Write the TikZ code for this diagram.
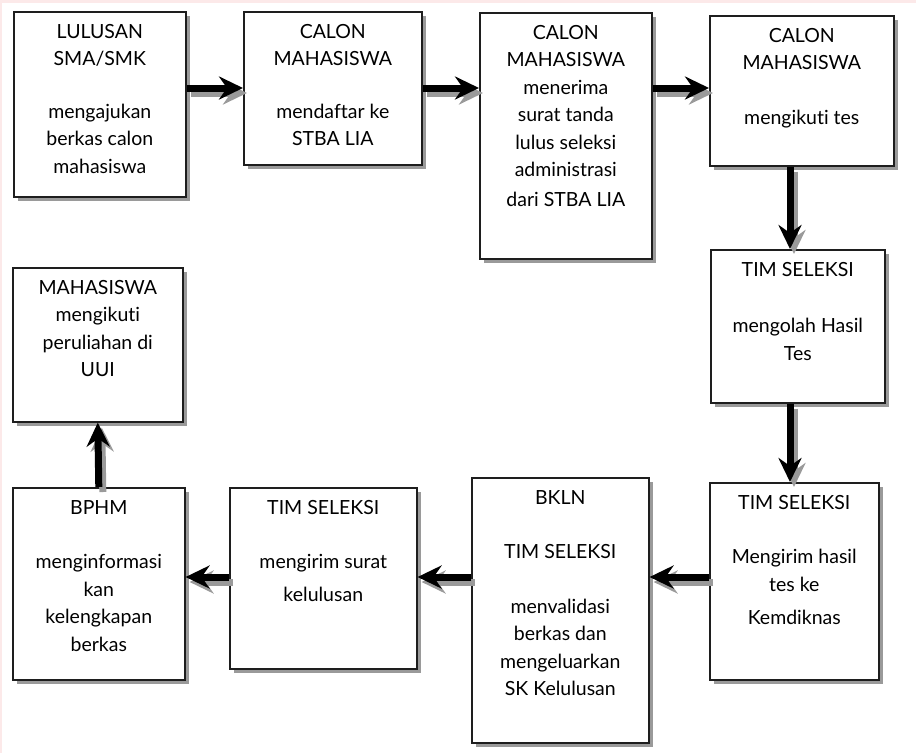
\documentclass[tikz,border=0pt]{standalone}
\usepackage{fontspec}
\setmainfont{Lato}[Ligatures={NoCommon}]
\usepackage{tikz}
\usetikzlibrary{arrows.meta, shadows}
\definecolor{EdgePink}{HTML}{FCE9E9}
\definecolor{BoxShadow}{HTML}{9A9A9A}
\definecolor{BoxLine}{HTML}{1E1E1E}
\newcommand{\boxcontent}[3]{\parbox[t][#2][t]{#1}{\centering\rule{0pt}{26.5pt}#3\par}}

\begin{document}
\begin{tikzpicture}[x=1pt, y=-1pt,
    stepbox/.style={draw=BoxLine, line width=1.6pt, fill=white, inner sep=0pt,
        anchor=north west, font=\fontsize{19.5}{27.5}\selectfont,
        drop shadow={shadow xshift=4pt, shadow yshift=-4pt, fill=BoxShadow, opacity=1}},
    flow/.style={line width=7pt, black, -{Stealth[length=24pt, width=23pt, inset=8pt]}},
    flowshadow/.style={flow, draw=BoxShadow, fill=BoxShadow,
        transform canvas={xshift=4pt, yshift=-5pt}}]
    \useasboundingbox (0,0) rectangle (916,753);
    % faint page edge
    \fill[EdgePink] (0,0) rectangle (916,3);
    \fill[EdgePink] (0,0) rectangle (2,753);

    % Top row
    \node[stepbox] (lulusan) at (13,11) {\boxcontent{172pt}{185pt}{LULUSAN\\SMA/SMK\\[25pt]mengajukan\\berkas calon\\mahasiswa}};
    \node[stepbox] (daftar) at (243,11) {\boxcontent{178pt}{153pt}{CALON\\MAHASISWA\\[25pt]mendaftar ke\\STBA LIA}};
    \node[stepbox] (terima) at (479,12) {\boxcontent{172pt}{246pt}{CALON\\MAHASISWA\\menerima\\surat tanda\\lulus seleksi\\administrasi\\[2pt]dari STBA LIA}};
    \node[stepbox] (tes) at (709,15) {\boxcontent{184pt}{150pt}{CALON\\MAHASISWA\\[27pt]mengikuti tes}};

    % Right column
    \node[stepbox] (olah) at (710,249) {\boxcontent{174pt}{153pt}{TIM SELEKSI\\[29pt]mengolah Hasil\\Tes}};
    \node[stepbox] (kirim) at (709,482) {\boxcontent{169pt}{197pt}{TIM SELEKSI\\[27pt]Mengirim hasil\\tes ke\\[6pt]Kemdiknas}};

    % Bottom row
    \node[stepbox] (bkln) at (471,477) {\boxcontent{177pt}{265pt}{BKLN\\[27pt]TIM SELEKSI\\[27pt]menvalidasi\\berkas dan\\mengeluarkan\\SK Kelulusan}};
    \node[stepbox] (surat) at (229,487) {\boxcontent{187pt}{181pt}{TIM SELEKSI\\[27pt]mengirim surat\\[5pt]kelulusan}};
    \node[stepbox] (bphm) at (12,487) {\boxcontent{172pt}{192pt}{BPHM\\[27pt]menginformasi\\kan\\kelengkapan\\berkas}};
    \node[stepbox] (mhs) at (12,267) {\boxcontent{170pt}{154pt}{MAHASISWA\\mengikuti\\peruliahan di\\UUI}};

    % lines the arrows run along
    \coordinate (toprow) at (0,88);
    \coordinate (rightcol) at (790,0);
    \coordinate (botrow) at (0,577);

    % Arrows, shadow first
    \foreach \a/\b in {lulusan/daftar, daftar/terima, terima/tes} {
        \draw[flowshadow] (\a.east |- toprow) -- (\b.west |- toprow);
        \draw[flow] (\a.east |- toprow) -- (\b.west |- toprow);
    }
    \foreach \a/\b in {tes/olah, olah/kirim} {
        \draw[flowshadow] (\a.south -| rightcol) -- (\b.north -| rightcol);
        \draw[flow] (\a.south -| rightcol) -- (\b.north -| rightcol);
    }
    \foreach \a/\b in {kirim/bkln, bkln/surat, surat/bphm} {
        \draw[flowshadow] (\a.west |- botrow) -- (\b.east |- botrow);
        \draw[flow] (\a.west |- botrow) -- (\b.east |- botrow);
    }
    \draw[flowshadow] (bphm.north) -- (mhs.south);
    \draw[flow] (bphm.north) -- (mhs.south);
\end{tikzpicture}
\end{document}
